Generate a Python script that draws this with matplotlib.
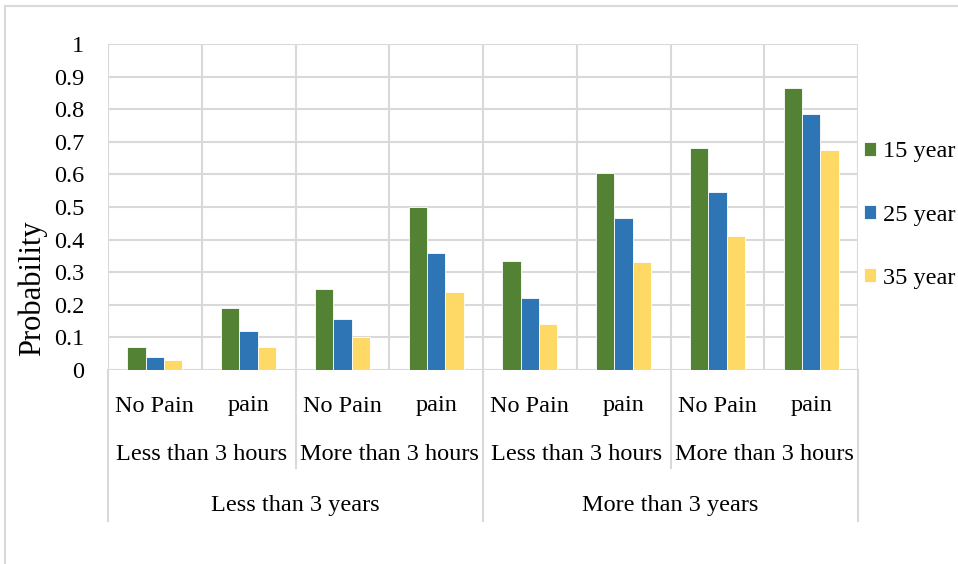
import matplotlib
matplotlib.use("Agg")
import matplotlib.pyplot as plt
import numpy as np
from matplotlib.lines import Line2D

plt.rcParams["font.family"] = ["Liberation Serif", "DejaVu Serif"]

# Category hierarchy (innermost first)
pain_labels = ["No Pain", "pain", "No Pain", "pain", "No Pain", "pain", "No Pain", "pain"]
hours_labels = ["Less than 3 hours", "More than 3 hours", "Less than 3 hours", "More than 3 hours"]
years_labels = ["Less than 3 years", "More than 3 years"]

series_names = ["15 year", "25 year", "35 year"]
p15 = [0.07, 0.19, 0.25, 0.50, 0.335, 0.605, 0.68, 0.865]
p25 = [0.04, 0.12, 0.155, 0.36, 0.22, 0.465, 0.545, 0.785]
p35 = [0.03, 0.07, 0.10, 0.24, 0.14, 0.33, 0.41, 0.675]
y_ticks = [0, 0.1, 0.2, 0.3, 0.4, 0.5, 0.6, 0.7, 0.8, 0.9, 1]

colors = ["#548235", "#2E75B6", "#FFD966"]
grid_c = "#D9D9D9"
fs = 17.5

W, H = 958, 564
fig = plt.figure(figsize=(W / 100, H / 100), dpi=100)
L, R, T, B = 108, 858, 44, 370
ax = fig.add_axes([L / W, 1 - B / H, (R - L) / W, (B - T) / H])

x = np.arange(len(pain_labels))
bw = 0.195
bars = []
for i, (vals, c, name) in enumerate(zip([p15, p25, p35], colors, series_names)):
    b = ax.bar(x + (i - 1) * bw, vals, width=bw, color=c, edgecolor="white",
               linewidth=0.6, label=name, zorder=3)
    bars.append(b)

ax.set_xlim(-0.5, len(pain_labels) - 0.5)
ax.set_ylim(0, 1)
ax.set_yticks(y_ticks)
ax.set_yticklabels([f"{v:g}" for v in y_ticks], fontsize=fs)
ax.tick_params(axis="y", length=0, pad=17)
ax.set_xticks([])
for s in ax.spines.values():
    s.set_visible(False)

# gridlines: horizontal at every tick, vertical at category boundaries
for v in y_ticks:
    ax.axhline(v, color=grid_c, lw=1.5, zorder=1)
for k in range(len(pain_labels) + 1):
    ax.axvline(k - 0.5, color=grid_c, lw=1.5, zorder=1)

ax.set_ylabel("Probability", fontsize=22)
ax.yaxis.set_label_coords(-0.0813, 0.2515)

# multi-level category axis
ph = B - T
def yax(py):
    return (B - py) / ph

trans = ax.get_xaxis_transform()
for k, lab in enumerate(pain_labels):
    ax.text(k, yax(406), lab, transform=trans, ha="center", va="center", fontsize=fs)
for k, lab in enumerate(hours_labels):
    ax.text(2 * k + 0.5, yax(454), lab, transform=trans, ha="center", va="center", fontsize=fs)
for k, lab in enumerate(years_labels):
    ax.text(4 * k + 1.5, yax(505), lab, transform=trans, ha="center", va="center", fontsize=fs)

for k in range(5):
    xb = 2 * k - 0.5
    bottom = 521 if k % 2 == 0 else 468
    ax.plot([xb, xb], [0, yax(bottom)], transform=trans, color=grid_c, lw=1.5,
            clip_on=False, zorder=1)

leg = ax.legend(handles=bars, labels=series_names, loc="center left",
                bbox_to_anchor=(864 / W, 1 - 215 / H), bbox_transform=fig.transFigure,
                frameon=False, fontsize=fs, handlelength=0.5, handleheight=0.5,
                handletextpad=0.3, labelspacing=1.73, borderpad=0, borderaxespad=0)

# chart-area border
fig.add_artist(Line2D([5 / W, 5 / W], [0, 1 - 6 / H], color=grid_c, lw=1.5))
fig.add_artist(Line2D([5 / W, 1], [1 - 6 / H, 1 - 6 / H], color=grid_c, lw=1.5))

fig.savefig("out.png", dpi=100)
